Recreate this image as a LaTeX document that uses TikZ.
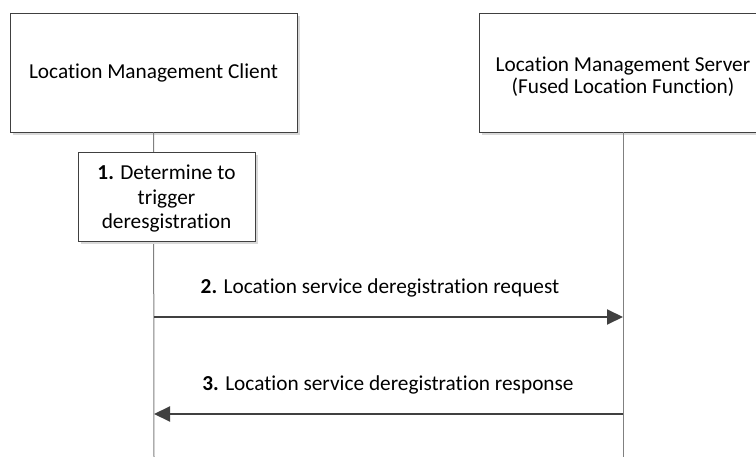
\documentclass[tikz,border=0pt]{standalone}
\usepackage{fontspec}
\setmainfont{Carlito}[Ligatures={NoCommon}]
\usetikzlibrary{arrows.meta,shadows}
\definecolor{boxline}{HTML}{404040}
\definecolor{lifeline}{HTML}{808080}
\definecolor{shade}{HTML}{D9D9D9}
\tikzset{
  entity/.style={draw=boxline, line width=0.8pt, fill=white, align=center, inner sep=0pt,
    font=\fontsize{21.3}{24.5}\selectfont,
    drop shadow={shadow xshift=3pt, shadow yshift=-3pt, fill=shade, opacity=1}},
  msg/.style={draw=boxline, line width=2pt, -{Triangle[length=16pt,width=15pt]}},
  life/.style={draw=lifeline, line width=1pt},
  lbl/.style={font=\fontsize{21.3}{24.5}\selectfont, inner sep=0pt}
}
\begin{document}
\begin{tikzpicture}[x=1pt,y=-1pt]
\useasboundingbox (0,0) rectangle (756,457);
% lifelines
\coordinate (cb) at (154,457);
\coordinate (sb) at (623,457);
\node[entity, minimum width=287pt, minimum height=119pt] (client) at (153.5,72.5) {Location Management Client};
\node[entity, minimum width=288pt, minimum height=119pt, font=\fontsize{21.3}{22}\selectfont] (server) at (623,72.5) {\rule{0pt}{23pt}Location Management Server\\(Fused Location Function)};
\draw[life] (client.south) -- (cb);
\draw[life] (server.south) -- (sb);
\node[entity, minimum width=177pt, minimum height=89pt] (step1) at (166.5,196.5) {\rule{0pt}{19pt}\textbf{1.} Determine to\\trigger\\deresgistration};
% messages
\coordinate (a2s) at (154,317);
\coordinate (a2e) at (623,317);
\coordinate (a3s) at (623,414);
\coordinate (a3e) at (154,414);
\draw[msg] (a2s) -- (a2e);
\draw[msg] (a3s) -- (a3e);
\node[lbl] (l2) at (380,288) {\textbf{2.} Location service deregistration request};
\node[lbl] (l3) at (388,385) {\textbf{3.} Location service deregistration response};
\end{tikzpicture}
\end{document}
